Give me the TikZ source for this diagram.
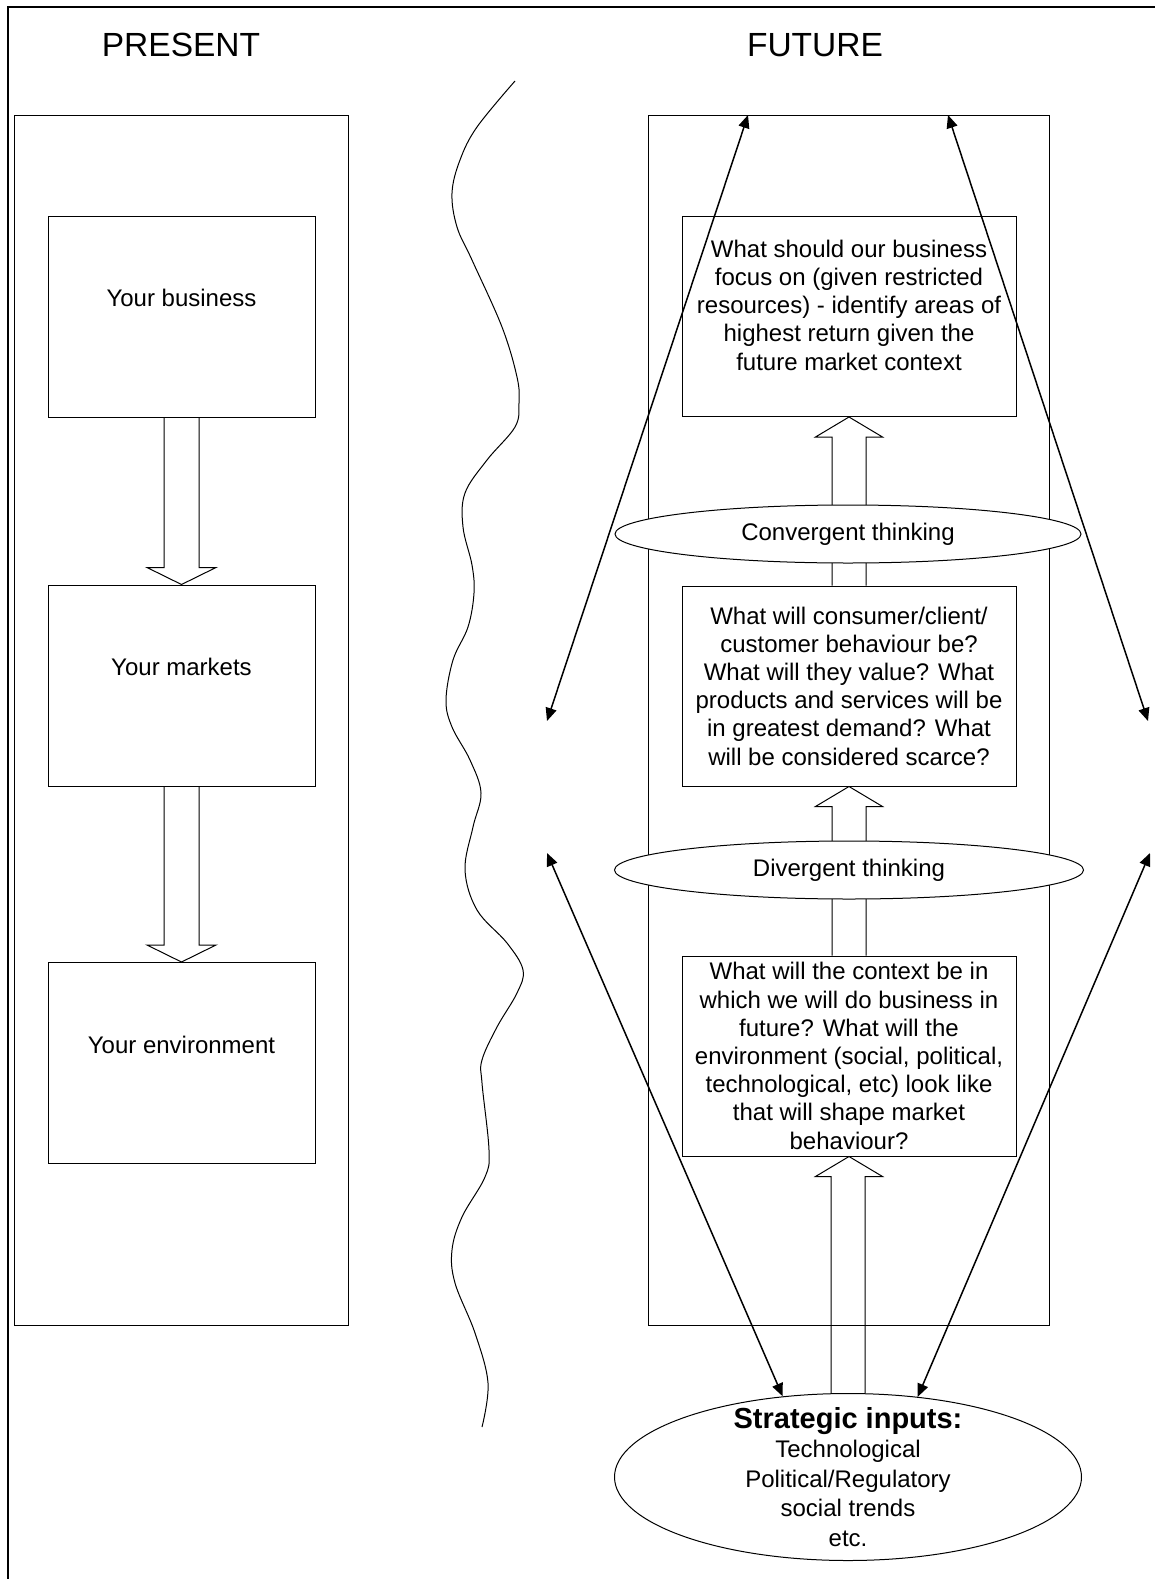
\documentclass[tikz,border=0pt]{standalone}
\usepackage{fontspec}
\setmainfont{Liberation Sans}
\usepackage{tikz}
\usetikzlibrary{arrows.meta,calc,shapes.geometric}

\begin{document}
\begin{tikzpicture}[x=1pt,y=-1pt,
  txt/.style={font=\fontsize{24}{28.2}\selectfont},
  head/.style={font=\fontsize{33.5}{40}\selectfont,anchor=base},
  box/.style={draw,line width=1pt,align=center,inner sep=0pt,txt},
  lbox/.style={box,minimum width=267pt,minimum height=201pt,text depth=37pt},
  rbox/.style={box,minimum width=334pt,minimum height=200pt},
  oval/.style={draw,ellipse,line width=1pt,fill=white,inner sep=0pt,align=center,txt},
  hollow/.style={draw,line width=1pt},
  dbl/.style={line width=1.5pt,{Triangle[length=13pt,width=11pt]}-{Triangle[length=13pt,width=11pt]}}]
\useasboundingbox (0,0) rectangle (1155,1579);
% frame
\draw[line width=2pt] (8,1579) -- (8,7) -- (1155,7);
\node[head] (pres) at (181,57) {PRESENT};
\node[head] (fut) at (815,57) {FUTURE};
% the two columns
\draw[line width=1pt] (14,115) rectangle (348,1325);
\draw[line width=1pt] (648,115) rectangle (1049,1325);
% present
\node[lbox] (bus) at (181.5,316.5) {Your business};
\node[lbox] (mkt) at (181.5,685.5) {Your markets};
\node[lbox] (env) at (181.5,1063) {Your environment};
\draw[hollow] ($(bus.south)+(-17.5,0)$) |- ($(mkt.north)+(-34.5,-17)$) -- (mkt.north) -- ($(mkt.north)+(34.5,-17)$) -| ($(bus.south)+(17.5,0)$);
\draw[hollow] ($(mkt.south)+(-17.5,0)$) |- ($(env.north)+(-34.5,-17)$) -- (env.north) -- ($(env.north)+(34.5,-17)$) -| ($(mkt.south)+(17.5,0)$);
% future
\node[rbox,text depth=23pt] (focus) at (849,316.5) {What should our business\\focus on (given restricted\\resources) - identify areas of\\highest return given the\\future market context};
\node[rbox] (cust) at (849,686) {What will consumer/client/\\customer behaviour be?\\What will they value? What\\products and services will be\\in greatest demand? What\\will be considered scarce?};
\node[rbox] (ctx) at (849,1056) {What will the context be in\\which we will do business in\\future? What will the\\environment (social, political,\\technological, etc) look like\\that will shape market\\behaviour?};
\node[oval,minimum width=467pt,minimum height=167pt] (inp) at (848,1477) {};
\node[txt,align=center,font=\fontsize{24}{29.5}\selectfont] (inptxt) at (inp.center) {\textbf{\fontsize{29}{30}\selectfont Strategic inputs:}\\Technological\\Political/Regulatory\\social trends\\etc.};
\draw[hollow] ($(cust.north)+(-17,0)$) |- ($(focus.south)+(-33.5,20)$) -- (focus.south) -- ($(focus.south)+(33.5,20)$) -| ($(cust.north)+(17,0)$);
\draw[hollow] ($(ctx.north)+(-17,0)$) |- ($(cust.south)+(-33.5,20)$) -- (cust.south) -- ($(cust.south)+(33.5,20)$) -| ($(ctx.north)+(17,0)$);
\draw[hollow] ($(inp.north)+(-17,0)$) |- ($(ctx.south)+(-33.5,20)$) -- (ctx.south) -- ($(ctx.south)+(33.5,20)$) -| ($(inp.north)+(17,0)$);
\node[oval,minimum width=466pt,minimum height=58pt] (conv) at (848,534) {Convergent thinking};
\node[oval,minimum width=469pt,minimum height=58pt] (div) at (849,870) {Divergent thinking};
% wavy divide
\draw[line width=1pt] plot[smooth,tension=0.6] coordinates {(515,81) (477,127) (460,160) (452,193) (457,227) (472,260) (502,327) (517,377) (519,403) (515,427) (487,460) (465,493) (463,527) (472,565) (474,593) (468,627) (453,660) (446,700) (452,727) (470,760) (481,793) (473,827) (465,870) (477,910) (507,943) (523,970) (517,993) (497,1027) (482,1060) (482,1083) (489,1150) (485,1177) (462,1217) (452,1250) (455,1283) (475,1333) (488,1383) (482,1427)};
% arrows out to the sides
\coordinate (ua) at (748,115);
\coordinate (ub) at (547,721);
\coordinate (uc) at (948,115);
\coordinate (ud) at (1148,721);
\coordinate (la) at (547,853);
\coordinate (lc) at (1150,853);
\draw[dbl] (ua) -- (ub);
\draw[dbl] (uc) -- (ud);
\draw[dbl] (la) -- (inp.129);
\draw[dbl] (lc) -- (inp.49);
\end{tikzpicture}
\end{document}
